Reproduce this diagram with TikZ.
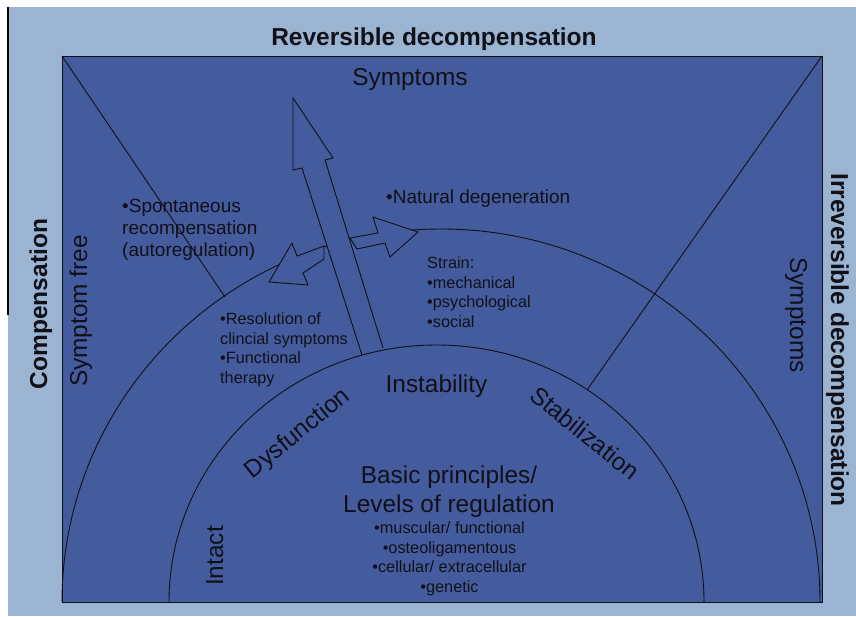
\documentclass[tikz,border=0pt]{standalone}
\usepackage{fontspec}
\setmainfont{Liberation Sans}
\definecolor{bgblue}{RGB}{155,180,210}
\definecolor{boxblue}{RGB}{68,92,158}
\definecolor{ink}{RGB}{16,16,24}
\begin{document}
\begin{tikzpicture}[x=1pt,y=1pt,
  stroke/.style={draw=ink, line width=0.9pt, line join=miter},
  boldlbl/.style={font=\fontsize{24.5}{29}\selectfont\bfseries, text=ink, inner sep=0pt, anchor=base},
  biglbl/.style={font=\fontsize{24.4}{29}\selectfont, text=ink, inner sep=0pt, anchor=base},
  midlbl/.style={font=\fontsize{19}{22}\selectfont, text=ink, inner sep=0pt, align=left, anchor=base west},
  smalllbl/.style={font=\fontsize{16.3}{19.4}\selectfont, text=ink, inner sep=0pt, anchor=base}]
\useasboundingbox (0,0) rectangle (856,-616);
\fill[white] (0,0) rectangle (856,-616);
\fill[bgblue] (8,-7) rectangle (856,-616);
\coordinate (edgeTop) at (8,-7);
\coordinate (edgeBot) at (8,-315);
\draw[black, line width=1.2pt] (edgeTop) -- (edgeBot);
% main box
\coordinate (tl) at (62,-56);
\coordinate (tr) at (822,-56);
\coordinate (br) at (822,-602);
\coordinate (bl) at (62,-602);
\fill[boxblue] (tl) rectangle (br);
\draw[stroke] (tl) rectangle (br);
% outer arc
\coordinate (outerL) at (62,-602);
\draw[stroke] (outerL) arc[start angle=180, end angle=0, x radius=379, y radius=373];
% diagonals
\coordinate (leftEnd) at (225,-297);
\coordinate (rightEnd) at (587,-390);
\draw[stroke] (tl) -- (leftEnd);
\draw[stroke] (tr) -- (rightEnd);
% small arrows
\filldraw[stroke, fill=boxblue] (324,-246) -- (297,-256) -- (292,-243) -- (269,-282) -- (308,-285) -- (303,-273) -- (324,-259) -- cycle;
\filldraw[stroke, fill=boxblue] (350,-238) -- (378,-233) -- (373,-217) -- (418,-232) -- (390,-257) -- (385,-243) -- (357,-249) -- cycle;
% big arrow
\fill[boxblue] (362,-355) -- (302,-168) -- (293,-170) -- (293,-98) -- (333,-158) -- (325,-160) -- (383,-348) -- cycle;
\draw[stroke] (362,-355) -- (302,-168) -- (293,-170) -- (293,-98) -- (333,-158) -- (325,-160) -- (383,-348);
% inner arc
\coordinate (innerL) at (169,-602);
\draw[stroke] (innerL) arc[start angle=180, end angle=0, x radius=267.5, y radius=257];
% outer labels
\node[boldlbl] (rev) at (434,-45) {Reversible decompensation};
\node[boldlbl, rotate=90] (comp) at (47,-304) {Compensation};
\node[boldlbl, rotate=-90] (irr) at (831,-340) {Irreversible decompensation};
% big labels
\node[biglbl] (symtop) at (410,-85) {Symptoms};
\node[biglbl, rotate=90] (symfree) at (87,-311) {Symptom free};
\node[biglbl, rotate=-90] (symright) at (790,-315) {Symptoms};
\node[biglbl, rotate=90] (intact) at (223,-556) {Intact};
\node[biglbl] (instab) at (436.5,-392) {Instability};
\node[biglbl, anchor=center, rotate=39] (dys) at (298,-434) {Dysfunction};
\node[biglbl, anchor=center, rotate=-39] (stab) at (585,-433) {Stabilization};
\node[biglbl, align=center] (basic) at (449,-512) {Basic principles/\\Levels of regulation};
% small lists
\node[smalllbl, align=center] (levels) at (449.5,-592) {•muscular/ functional\\•osteoligamentous\\•cellular/ extracellular\\•genetic};
\node[smalllbl, align=left, anchor=base west] (strain) at (427,-327) {Strain:\\•mechanical\\•psychological\\•social};
\node[smalllbl, align=left, anchor=base west] (resol) at (220,-383) {•Resolution of\\clincial symptoms\\•Functional\\therapy};
\node[midlbl] (nat) at (386,-203) {•Natural degeneration};
\node[midlbl] (spont) at (122,-256) {•Spontaneous\\recompensation\\(autoregulation)};
\end{tikzpicture}
\end{document}
